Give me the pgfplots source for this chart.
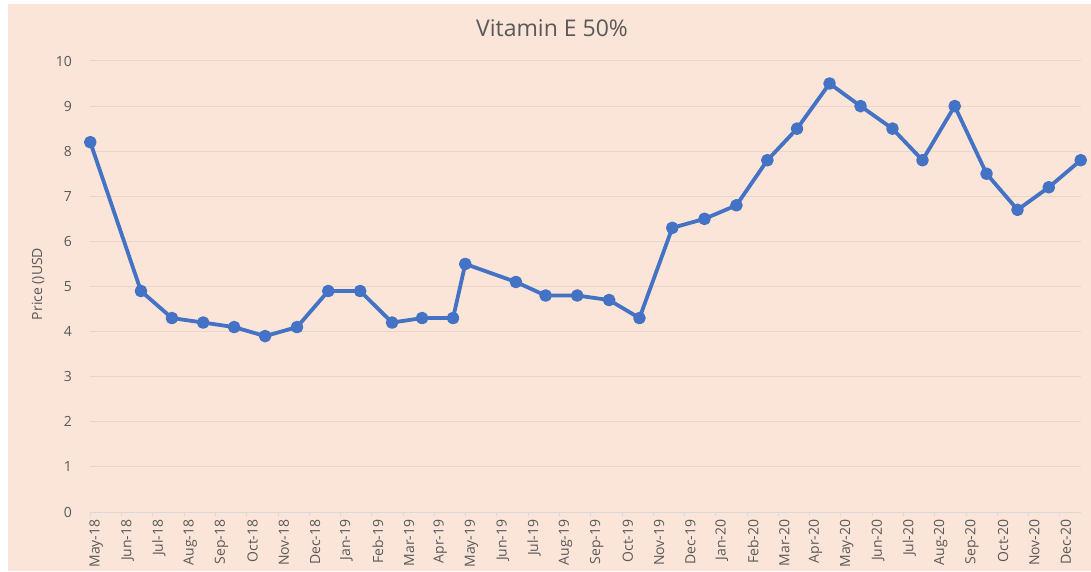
\documentclass[border=0pt]{standalone}
\usepackage{pgfplots}
\pgfplotsset{compat=1.18}
\usepackage{fontspec}
\setmainfont{Open Sans}
\definecolor{bg}{HTML}{FAE5D8}
\definecolor{txt}{HTML}{595959}
\definecolor{grd}{HTML}{E6D6CC}
\definecolor{axl}{HTML}{D9D9D9}
\definecolor{ln}{HTML}{4472C4}
\begin{document}
\begin{tikzpicture}[x=1pt,y=1pt]
\path[use as bounding box] (0,0) rectangle (1091,571);
\fill[white] (0,0) rectangle (1091,571);
\fill[bg] (8,0) rectangle (1091,567);
\begin{axis}[
  at={(90.3pt,59pt)}, anchor=south west,
  scale only axis, width=990.4pt, height=451pt,
  xmin=0, xmax=31.67, ymin=0, ymax=10,
  axis x line*=bottom, axis y line*=left,
  x axis line style={draw=axl, line width=0.8pt, -},
  y axis line style={draw=none},
  xtick={0,...,31},
  xticklabels={May-18,Jun-18,Jul-18,Aug-18,Sep-18,Oct-18,Nov-18,Dec-18,Jan-19,Feb-19,Mar-19,Apr-19,May-19,Jun-19,Jul-19,Aug-19,Sep-19,Oct-19,Nov-19,Dec-19,Jan-20,Feb-20,Mar-20,Apr-20,May-20,Jun-20,Jul-20,Aug-20,Sep-20,Oct-20,Nov-20,Dec-20},
  xticklabel style={rotate=90, anchor=east, font=\fontsize{14}{16}\selectfont, text=txt, yshift=-6pt},
  major tick length=4pt,
  xtick style={draw=axl, line width=0.8pt},
  tick align=outside,
  ytick={0,...,10},
  ymajorgrids, grid style={draw=grd, line width=1pt},
  ytick style={draw=none},
  yticklabel style={font=\fontsize{14}{16}\selectfont, text=txt, xshift=-11pt},
  /pgf/number format/assume math mode=true,
  clip=false,
]
\addplot[color=ln, line width=3.8pt, mark=*, mark size=4.4pt, line join=round] coordinates {
(0,8.2) (1.62,4.9) (2.61,4.3) (3.61,4.2) (4.6,4.1) (5.59,3.9) (6.61,4.1) (7.61,4.9)
(8.63,4.9) (9.65,4.2) (10.61,4.3) (11.6,4.3) (11.99,5.5) (13.61,5.1) (14.56,4.8)
(15.57,4.8) (16.59,4.7) (17.56,4.3) (18.61,6.3) (19.64,6.5) (20.66,6.8) (21.65,7.8)
(22.6,8.5) (23.64,9.5) (24.63,9.0) (25.65,8.5) (26.61,7.8) (27.64,9.0) (28.66,7.5)
(29.65,6.7) (30.65,7.2) (31.67,7.8)
};
\end{axis}
\node[text=txt, font=\fontsize{23}{26}\selectfont] at (552,543) {Vitamin E 50\%};
\node[text=txt, font=\fontsize{14}{16}\selectfont, rotate=90] at (38,287) {Price ()USD};
\end{tikzpicture}
\end{document}
